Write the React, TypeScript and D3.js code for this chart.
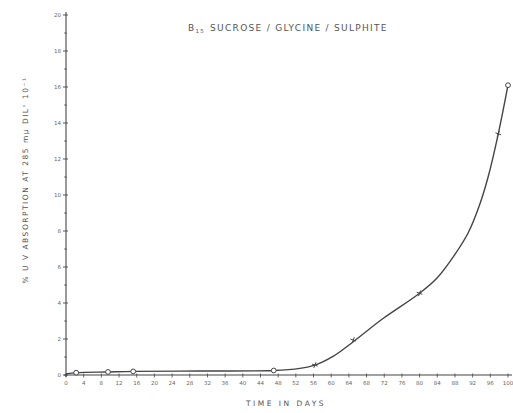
import { useEffect, useRef } from "react";
import * as d3 from "d3";

// readings taken off the original plot
const circleDays = [2.3, 9.5, 15.2, 47, 100];
const circleValues = [0.13, 0.17, 0.2, 0.25, 16.1];

const crossDays = [56.3, 65, 80, 97.8];
const crossValues = [0.55, 1.94, 4.54, 13.4];

// hand drawn smooth curve, read along its length
const curveDays = [0, 2.3, 9.5, 15.2, 30, 47, 52.9, 56.3, 60.5, 65, 71.8, 80, 84, 88, 91, 93.5, 95.5, 97.8, 100];
const curveValues = [0.06, 0.13, 0.17, 0.2, 0.22, 0.25, 0.37, 0.55, 1.05, 1.85, 3.15, 4.54, 5.4, 6.7, 7.9, 9.4, 11.0, 13.4, 16.1];

const xTicks = d3.range(0, 101, 4);
const yMajor = d3.range(0, 21, 2);
const yMinor = d3.range(1, 20, 2);

export default function App() {
  const ref = useRef<SVGSVGElement>(null);

  useEffect(() => {
    const width = 513;
    const height = 413;
    const ink = "#454545";
    const svg = d3.select(ref.current);
    svg.selectAll("*").remove();

    const x = d3.scaleLinear([0, 100], [66, 508]);
    const y = d3.scaleLinear([0, 20], [375, 15]);

    svg.append("rect").attr("width", width).attr("height", height).attr("fill", "#fff");

    // axes
    svg.append("line")
      .attr("x1", x(0)).attr("x2", x(0))
      .attr("y1", y(20) - 3).attr("y2", y(0) + 2)
      .attr("stroke", ink).attr("stroke-width", 1.1);
    svg.append("line")
      .attr("x1", x(0) - 2).attr("x2", 512)
      .attr("y1", y(0)).attr("y2", y(0))
      .attr("stroke", ink).attr("stroke-width", 1.1);

    // y ticks
    svg.selectAll("line.ymaj").data(yMajor).enter().append("line")
      .attr("class", "ymaj")
      .attr("x1", x(0) - 3).attr("x2", x(0) + 2)
      .attr("y1", (d) => y(d)).attr("y2", (d) => y(d))
      .attr("stroke", ink).attr("stroke-width", 0.9);
    svg.selectAll("line.ymin").data(yMinor).enter().append("line")
      .attr("class", "ymin")
      .attr("x1", x(0) - 2).attr("x2", x(0) + 1)
      .attr("y1", (d) => y(d)).attr("y2", (d) => y(d))
      .attr("stroke", ink).attr("stroke-width", 0.7);
    svg.selectAll("text.ylab").data(yMajor).enter().append("text")
      .attr("class", "ylab")
      .attr("x", x(0) - 5).attr("y", (d) => y(d) + 2)
      .attr("text-anchor", "end")
      .attr("font-family", "DejaVu Sans, sans-serif")
      .attr("font-size", 5.5)
      .attr("fill", "#666")
      .text((d) => d);

    // x ticks
    svg.selectAll("line.xt").data(xTicks).enter().append("line")
      .attr("class", "xt")
      .attr("x1", (d) => x(d)).attr("x2", (d) => x(d))
      .attr("y1", y(0) - 1.5).attr("y2", y(0) + 2.5)
      .attr("stroke", ink).attr("stroke-width", 0.8);
    svg.selectAll("text.xlab").data(xTicks).enter().append("text")
      .attr("class", "xlab")
      .attr("x", (d) => x(d)).attr("y", y(0) + 10)
      .attr("text-anchor", "middle")
      .attr("font-family", "DejaVu Sans, sans-serif")
      .attr("font-size", 5.5)
      .attr("fill", "#666")
      .text((d) => d);

    // curve
    const pts = curveDays.map((d, i) => [d, curveValues[i]] as [number, number]);
    const line = d3.line<[number, number]>()
      .curve(d3.curveCatmullRom.alpha(0.5))
      .x((d) => x(d[0]))
      .y((d) => y(d[1]));
    svg.append("path")
      .attr("d", line(pts))
      .attr("fill", "none")
      .attr("stroke", ink)
      .attr("stroke-width", 1.4);

    // circle markers
    svg.selectAll("circle.pt").data(circleDays).enter().append("circle")
      .attr("class", "pt")
      .attr("cx", (d) => x(d))
      .attr("cy", (d, i) => y(circleValues[i]))
      .attr("r", 2.4)
      .attr("fill", "#fff")
      .attr("stroke", ink)
      .attr("stroke-width", 1);

    // cross markers
    const crosses = svg.selectAll("g.cr").data(crossDays).enter().append("g")
      .attr("class", "cr")
      .attr("transform", (d, i) => `translate(${x(d)},${y(crossValues[i])}) rotate(20)`);
    crosses.append("path")
      .attr("d", "M-3,0L3,0M0,-3L0,3")
      .attr("stroke", ink)
      .attr("stroke-width", 0.9);

    // title
    const title = svg.append("text")
      .attr("x", 188).attr("y", 31)
      .attr("font-family", "DejaVu Sans, sans-serif")
      .attr("font-size", 9)
      .attr("letter-spacing", 1.3)
      .attr("fill", "#555");
    title.append("tspan").text("B");
    title.append("tspan").attr("font-size", 5.5).attr("dy", 1.5).text("15");
    title.append("tspan").attr("dy", -1.5).attr("dx", 5).text("SUCROSE / GLYCINE / SULPHITE");

    // axis titles
    svg.append("text")
      .attr("x", 286).attr("y", 406)
      .attr("text-anchor", "middle")
      .attr("font-family", "DejaVu Sans, sans-serif")
      .attr("font-size", 7.5)
      .attr("letter-spacing", 2.5)
      .attr("fill", "#555")
      .text("TIME  IN  DAYS");

    svg.append("text")
      .attr("transform", "translate(28,180) rotate(-90)")
      .attr("text-anchor", "middle")
      .attr("font-family", "DejaVu Sans, sans-serif")
      .attr("font-size", 7.5)
      .attr("letter-spacing", 1.5)
      .attr("fill", "#555")
      .text("% U V ABSORPTION AT 285 mμ DILⁿ 10⁻¹");
  }, []);

  return (
    <div style={{ position: "absolute", left: 0, top: 0 }}>
      <svg ref={ref} width={513} height={413} style={{ display: "block" }} />
    </div>
  );
}
